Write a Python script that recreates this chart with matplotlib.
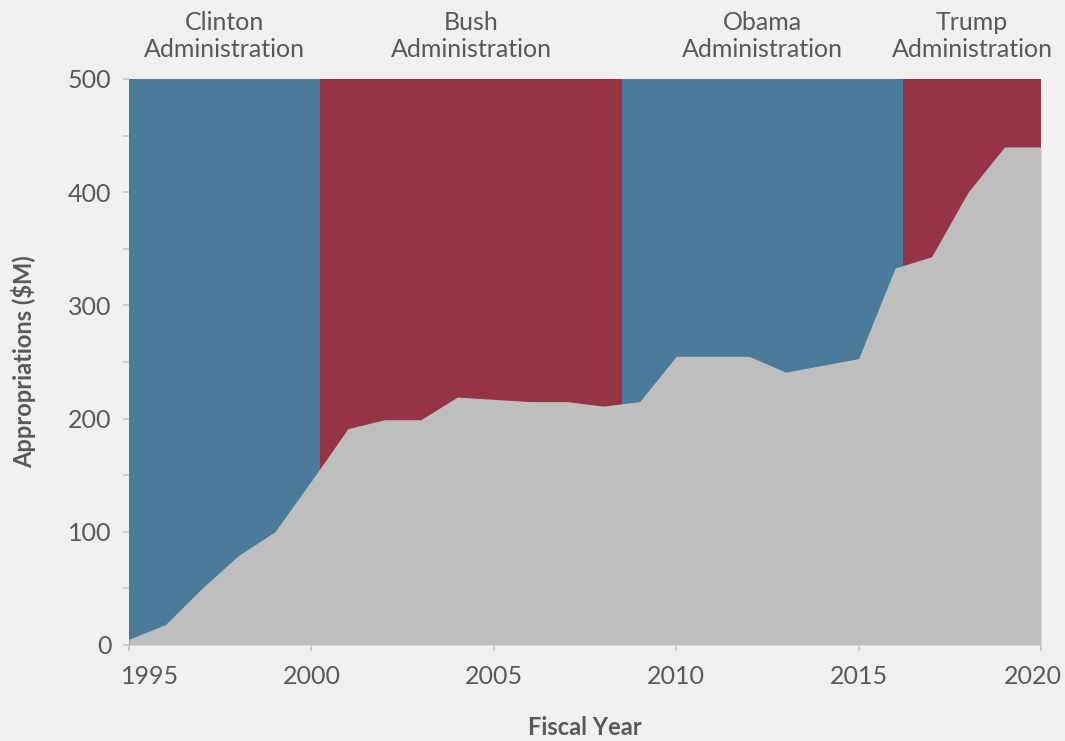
import matplotlib.pyplot as plt
from matplotlib.ticker import MultipleLocator, FuncFormatter

years = [1995, 1996, 1997, 1998, 1999, 2000, 2001, 2002, 2003, 2004, 2005, 2006, 2007,
         2008, 2009, 2010, 2011, 2012, 2013, 2014, 2015, 2016, 2017, 2018, 2019, 2020]
appropriations = [5, 18, 50, 79, 100, 145, 191, 199, 199, 219, 217, 215, 215,
                  211, 215, 255, 255, 255, 241, 247, 253, 333, 343, 400, 440, 440]

admin_names = ["Clinton\nAdministration", "Bush\nAdministration",
               "Obama\nAdministration", "Trump\nAdministration"]
admin_start = [1995, 2000.24, 2008.52, 2016.22]
admin_end = [2000.24, 2008.52, 2016.22, 2020]
admin_colors = ["#4a7c99", "#963446", "#4a7c99", "#963446"]

BG = "#f0f0f0"
TEXT = "#595959"

plt.rcParams['font.family'] = ['Lato', 'DejaVu Sans']

fig = plt.figure(figsize=(10.65, 7.41), dpi=100, facecolor=BG)
ax = fig.add_axes([0.1211, 0.1296, 0.8564, 0.7638], facecolor=BG)

for name, s, e, c in zip(admin_names, admin_start, admin_end, admin_colors):
    ax.axvspan(s, e, color=c, lw=0)
    ax.annotate(name, xy=((s + e) / 2, 500), xytext=(0, 13), textcoords="offset points",
                ha="center", va="bottom", fontsize=18, color=TEXT, linespacing=1.2)

ax.fill_between(years, appropriations, 0, color="#bebebe", lw=0)

ax.set_xlim(1995, 2020)
ax.set_ylim(0, 500)
ax.xaxis.set_major_locator(MultipleLocator(5))
ax.yaxis.set_major_locator(MultipleLocator(100))
ax.yaxis.set_minor_locator(MultipleLocator(50))

# edge years are drawn separately so they can be nudged inward
first, last = years[0], years[-1]
ax.xaxis.set_major_formatter(FuncFormatter(
    lambda v, p: "" if round(v) in (first, last) else f"{v:.0f}"))
ax.tick_params(axis="both", which="both", colors="#c8c8c8", labelcolor=TEXT,
               labelsize=18, length=4.5, width=1.2)
ax.tick_params(axis="y", pad=8)
ax.tick_params(axis="x", pad=10)
for sp in ax.spines.values():
    sp.set_visible(False)

for yr, dx in ((first, 15.5), (last, -6)):
    ax.annotate(str(yr), xy=(yr, 0), xycoords=("data", "axes fraction"),
                xytext=(dx, -14.5), textcoords="offset points",
                ha="center", va="top", fontsize=18, color=TEXT)

ax.set_xlabel("Fiscal Year", fontsize=17, fontweight="bold", color=TEXT, labelpad=20)
ax.set_ylabel("Appropriations ($M)", fontsize=17, fontweight="bold", color=TEXT, labelpad=23)

fig.savefig("out.png", dpi=100, facecolor=BG)
